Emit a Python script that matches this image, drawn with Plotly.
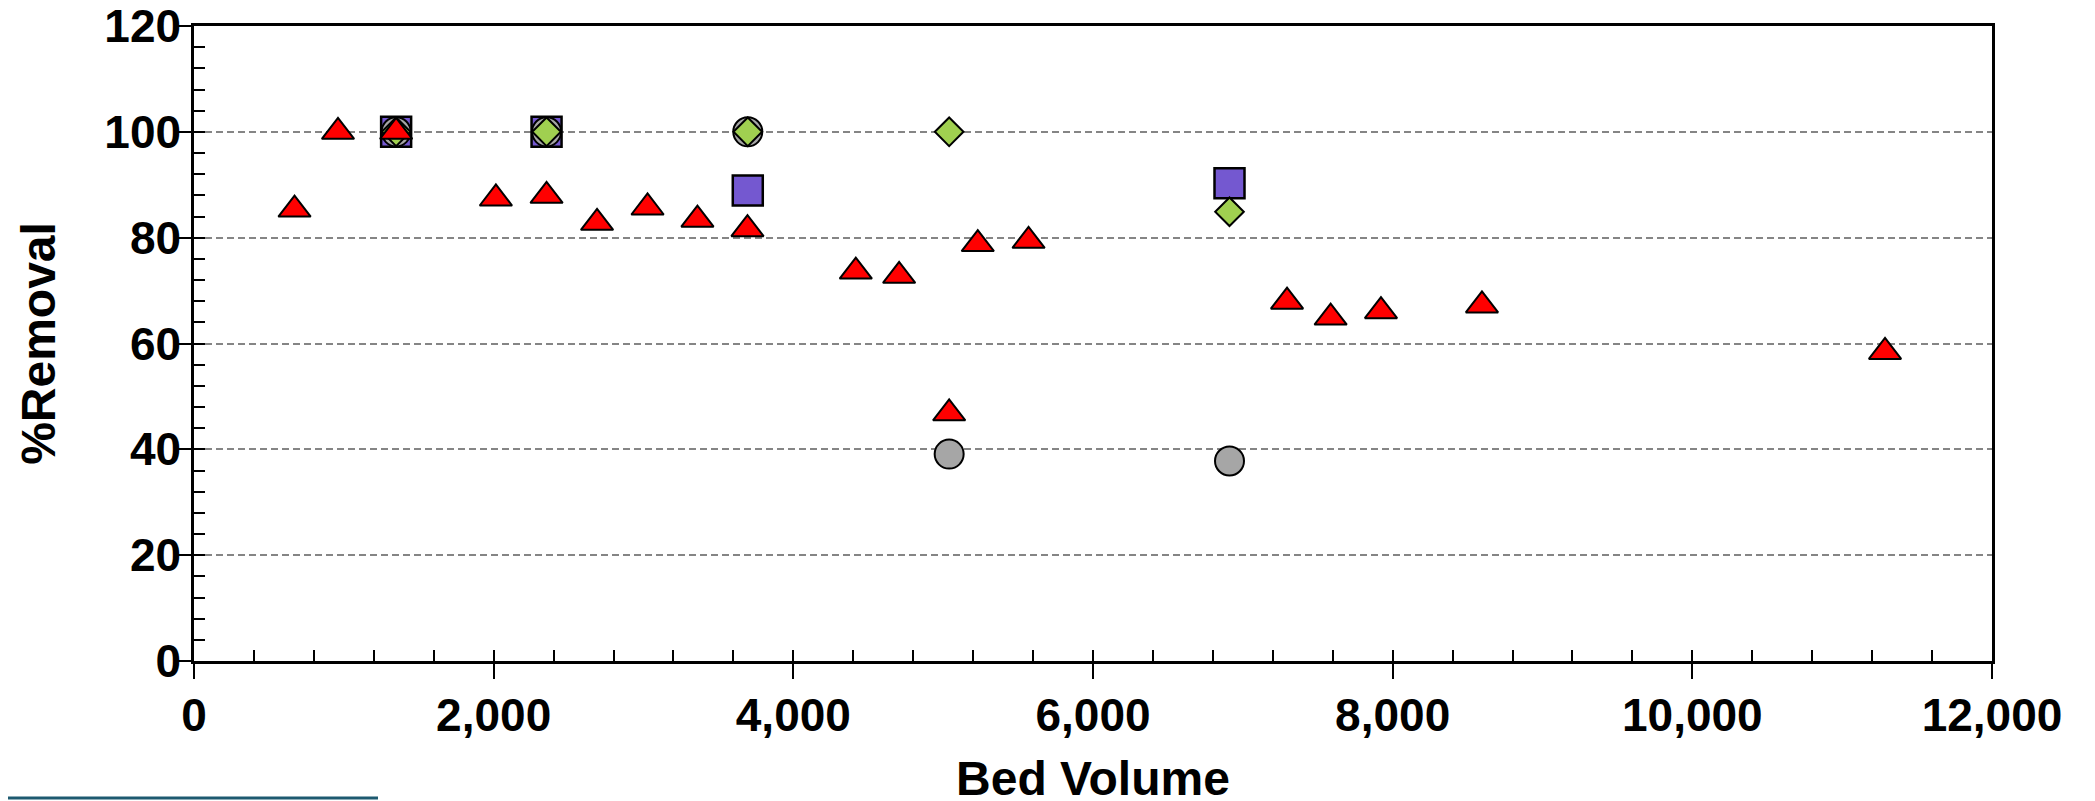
import plotly.graph_objects as go

# ---- data ----
tri_x = [671, 961, 1349, 2015, 2353, 2690, 3027, 3360, 3694, 4417, 4706,
         5040, 5231, 5570, 7295, 7586, 7922, 8596, 11286]
tri_y = [85.3, 100, 100, 87.4, 87.9, 82.8, 85.7, 83.4, 81.6, 73.6, 72.8,
         46.8, 78.8, 79.4, 67.9, 64.9, 66.1, 67.2, 58.4]

sq_x = [1349, 2353, 3696, 6911]
sq_y = [100, 100, 88.9, 90.3]

circ_x = [1349, 2353, 3696, 5040, 6911]
circ_y = [100, 100, 100, 39.1, 37.8]

dia_x = [1349, 2353, 3696, 5040, 6911]
dia_y = [100, 100, 100, 100, 84.9]

x_range = [0, 12000]
y_range = [0, 120]
x_title = "Bed Volume"
y_title = "%Removal"

# ---- layout geometry ----
W, H = 2095, 801
OFF = 8  # browser default body margin shifts the figure
ML, MR, MT, MB = 194 - OFF, 103 + OFF, 26 - OFF, 140 + OFF
FONT = "Arial, 'Liberation Sans', sans-serif"

fig = go.Figure()

fig.add_trace(go.Scatter(x=sq_x, y=sq_y, mode="markers", name="square",
                         marker=dict(symbol="square", size=30, color="#7458D0",
                                     line=dict(color="black", width=2.5))))
fig.add_trace(go.Scatter(x=circ_x, y=circ_y, mode="markers", name="circle",
                         marker=dict(symbol="circle", size=29, color="#A6A6A6",
                                     line=dict(color="black", width=2))))
fig.add_trace(go.Scatter(x=dia_x, y=dia_y, mode="markers", name="diamond",
                         marker=dict(symbol="diamond", size=22, color="#A0D050",
                                     line=dict(color="black", width=2))))
fig.add_trace(go.Scatter(x=tri_x, y=tri_y, mode="markers", name="triangle",
                         marker=dict(symbol="triangle-up", size=28, color="#FF0000",
                                     line=dict(color="black", width=2))))
# empty trace so the overlay (minor tick) axes are created
fig.add_trace(go.Scatter(x=[], y=[], xaxis="x2", yaxis="y2", showlegend=False,
                         hoverinfo="skip"))

tickfont = dict(family=FONT, size=46, color="black", weight="bold")

fig.update_layout(
    width=W, height=H,
    margin=dict(l=ML, r=MR, t=MT, b=MB, autoexpand=False),
    paper_bgcolor="white", plot_bgcolor="white",
    showlegend=False,
    font=dict(family=FONT, color="black"),
    xaxis=dict(range=x_range, dtick=2000, tick0=0, tickformat=",",
               ticks="outside", ticklen=15, tickwidth=2, tickcolor="black",
               showline=True, linecolor="black", linewidth=2.5, mirror=True,
               showgrid=False, zeroline=False, tickfont=tickfont, automargin=False,
               ticklabelstandoff=-3, ticklabeloverflow="allow",
               title=dict(text="<b>" + x_title + "</b>", standoff=22,
                          font=dict(family=FONT, size=48, color="black"))),
    yaxis=dict(range=y_range, dtick=20, tick0=0,
               ticks="outside", ticklen=15, tickwidth=2, tickcolor="black",
               showline=True, linecolor="black", linewidth=2.5, mirror=True,
               showgrid=True, gridcolor="#858585", gridwidth=2, griddash="7px,4px",
               zeroline=False, tickfont=tickfont, automargin=False,
               ticklabelstandoff=-14, ticklabeloverflow="allow",
               title=dict(text="<b>" + y_title + "</b>", standoff=34,
                          font=dict(family=FONT, size=48, color="black"))),
    xaxis2=dict(range=x_range, overlaying="x", anchor="y", side="bottom",
                dtick=400, tick0=0, ticks="inside", ticklen=11, tickwidth=2,
                tickcolor="black", showticklabels=False, showgrid=False,
                zeroline=False, showline=False, automargin=False),
    yaxis2=dict(range=y_range, overlaying="y", anchor="x", side="left",
                dtick=4, tick0=0, ticks="inside", ticklen=11, tickwidth=2,
                tickcolor="black", showticklabels=False, showgrid=False,
                zeroline=False, showline=False, automargin=False),
)

# decorative teal rule at the bottom-left of the slide
plot_w = W - ML - MR
plot_h = H - MT - MB
fig.add_shape(type="line", xref="paper", yref="paper",
              x0=(0 - ML) / plot_w, x1=(378 - OFF - ML) / plot_w,
              y0=(H - MB - (798 - OFF)) / plot_h, y1=(H - MB - (798 - OFF)) / plot_h,
              line=dict(color="#1D5A70", width=3))

fig.write_html("out.html")
